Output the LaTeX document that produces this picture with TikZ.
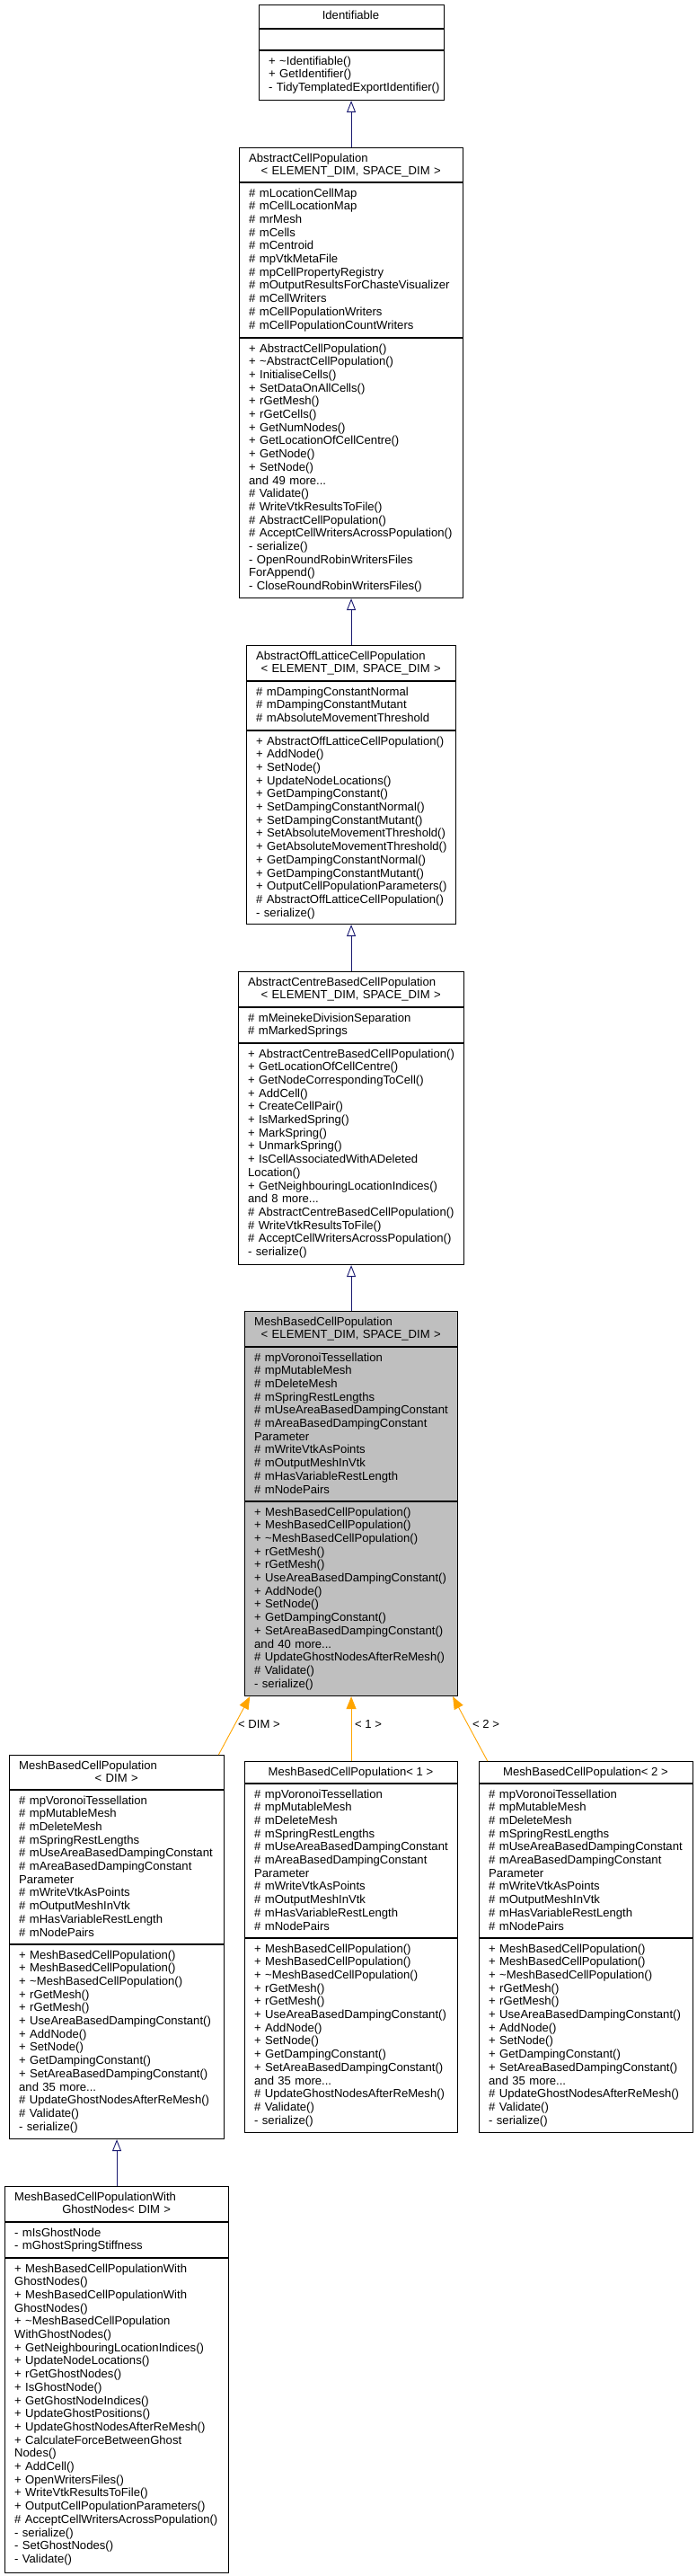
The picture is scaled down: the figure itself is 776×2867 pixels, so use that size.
\documentclass[tikz,border=0pt]{standalone}
\usepackage{fontspec}
\setmainfont{Liberation Sans}
\usepackage{tikz}
\usetikzlibrary{arrows.meta}
\usepackage{xcolor}

\definecolor{inhblue}{HTML}{191970}
\definecolor{tmplorange}{HTML}{FFA500}
\definecolor{boxgray}{HTML}{BFBFBF}
\newcommand{\umlfont}{\fontsize{13.1}{14.7}\selectfont}

% members shared by the MeshBasedCellPopulation boxes
\newcommand{\mbattrs}{\# mpVoronoiTessellation\\ \# mpMutableMesh\\ \# mDeleteMesh\\
  \# mSpringRestLengths\\ \# mUseAreaBasedDampingConstant\\ \# mAreaBasedDampingConstant\\
  Parameter\\ \# mWriteVtkAsPoints\\ \# mOutputMeshInVtk\\ \# mHasVariableRestLength\\
  \# mNodePairs}
\newcommand{\mbmethods}[1]{+ MeshBasedCellPopulation()\\ + MeshBasedCellPopulation()\\
  + \textasciitilde MeshBasedCellPopulation()\\ + rGetMesh()\\ + rGetMesh()\\
  + UseAreaBasedDampingConstant()\\ + AddNode()\\ + SetNode()\\ + GetDampingConstant()\\
  + SetAreaBasedDampingConstant()\\ and #1 more...\\ \# UpdateGhostNodesAfterReMesh()\\
  \# Validate()\\ - serialize()}

\begin{document}
\begin{tikzpicture}[
  x=1pt, y=-1pt,
  cls/.style={draw, line width=1.1pt, fill=white, anchor=north west, inner sep=0pt},
  sep/.style={line width=1.1pt},
  txt/.style={anchor=base west, align=left, text width=260pt, inner sep=0pt, font=\umlfont},
  ttl/.style={txt, text width=#1},
  ctitle/.style={anchor=base, align=center, inner sep=0pt, font=\umlfont},
  lbl/.style={anchor=west, inner sep=0pt, font=\umlfont},
  inh/.style={draw=inhblue, line width=0.9pt, -{Triangle[open, length=13pt, width=10pt]}},
  tmpl/.style={draw=tmplorange, line width=0.9pt, -{Triangle[length=14pt, width=11pt]}}
]
  \path[use as bounding box, fill=white] (0,0) rectangle (776,2867);

  % Identifiable
  \node[cls, minimum width=206pt, minimum height=106pt] (ident) at (287.5,5) {};
  \draw[sep] (ident.west |- 0,32) -- (ident.east |- 0,32);
  \draw[sep] (ident.west |- 0,56) -- (ident.east |- 0,56);
  \node[ctitle] (identT) at (390.5,21) {Identifiable};
  \node[txt] (identM) at (299,72) {+ \textasciitilde Identifiable()\\ + GetIdentifier()\\
    - TidyTemplatedExportIdentifier()};

  % AbstractCellPopulation
  \node[cls, minimum width=249pt, minimum height=501pt] (acp) at (266,164) {};
  \draw[sep] (acp.west |- 0,203) -- (acp.east |- 0,203);
  \draw[sep] (acp.west |- 0,376) -- (acp.east |- 0,376);
  \node[ttl=227pt] (acpT) at (277,180) {AbstractCellPopulation\\
    \makebox[227pt]{< ELEMENT\_DIM, SPACE\_DIM >}};
  \node[txt] (acpA) at (277,219) {\# mLocationCellMap\\ \# mCellLocationMap\\ \# mrMesh\\
    \# mCells\\ \# mCentroid\\ \# mpVtkMetaFile\\ \# mpCellPropertyRegistry\\
    \# mOutputResultsForChasteVisualizer\\ \# mCellWriters\\ \# mCellPopulationWriters\\
    \# mCellPopulationCountWriters};
  \node[txt] (acpM) at (277,392) {+ AbstractCellPopulation()\\
    + \textasciitilde AbstractCellPopulation()\\ + InitialiseCells()\\ + SetDataOnAllCells()\\
    + rGetMesh()\\ + rGetCells()\\ + GetNumNodes()\\ + GetLocationOfCellCentre()\\
    + GetNode()\\ + SetNode()\\ and 49 more...\\ \# Validate()\\ \# WriteVtkResultsToFile()\\
    \# AbstractCellPopulation()\\ \# AcceptCellWritersAcrossPopulation()\\ - serialize()\\
    - OpenRoundRobinWritersFiles\\ ForAppend()\\ - CloseRoundRobinWritersFiles()};

  % AbstractOffLatticeCellPopulation
  \node[cls, minimum width=233pt, minimum height=310pt] (offl) at (274,718) {};
  \draw[sep] (offl.west |- 0,758) -- (offl.east |- 0,758);
  \draw[sep] (offl.west |- 0,813) -- (offl.east |- 0,813);
  \node[ttl=211pt] (offlT) at (285,734) {AbstractOffLatticeCellPopulation\\
    \makebox[211pt]{< ELEMENT\_DIM, SPACE\_DIM >}};
  \node[txt] (offlA) at (285,774) {\# mDampingConstantNormal\\ \# mDampingConstantMutant\\
    \# mAbsoluteMovementThreshold};
  \node[txt] (offlM) at (285,829) {+ AbstractOffLatticeCellPopulation()\\ + AddNode()\\
    + SetNode()\\ + UpdateNodeLocations()\\ + GetDampingConstant()\\
    + SetDampingConstantNormal()\\ + SetDampingConstantMutant()\\
    + SetAbsoluteMovementThreshold()\\ + GetAbsoluteMovementThreshold()\\
    + GetDampingConstantNormal()\\ + GetDampingConstantMutant()\\
    + OutputCellPopulationParameters()\\ \# AbstractOffLatticeCellPopulation()\\ - serialize()};

  % AbstractCentreBasedCellPopulation
  \node[cls, minimum width=251pt, minimum height=326pt] (cbp) at (265,1081) {};
  \draw[sep] (cbp.west |- 0,1121) -- (cbp.east |- 0,1121);
  \draw[sep] (cbp.west |- 0,1161) -- (cbp.east |- 0,1161);
  \node[ttl=229pt] (cbpT) at (276,1097) {AbstractCentreBasedCellPopulation\\
    \makebox[229pt]{< ELEMENT\_DIM, SPACE\_DIM >}};
  \node[txt] (cbpA) at (276,1137) {\# mMeinekeDivisionSeparation\\ \# mMarkedSprings};
  \node[txt] (cbpM) at (276,1177) {+ AbstractCentreBasedCellPopulation()\\
    + GetLocationOfCellCentre()\\ + GetNodeCorrespondingToCell()\\ + AddCell()\\
    + CreateCellPair()\\ + IsMarkedSpring()\\ + MarkSpring()\\ + UnmarkSpring()\\
    + IsCellAssociatedWithADeleted\\ Location()\\ + GetNeighbouringLocationIndices()\\
    and 8 more...\\ \# AbstractCentreBasedCellPopulation()\\ \# WriteVtkResultsToFile()\\
    \# AcceptCellWritersAcrossPopulation()\\ - serialize()};

  % MeshBasedCellPopulation (this class)
  \node[cls, fill=boxgray, minimum width=237pt, minimum height=428pt] (mb) at (272,1459) {};
  \draw[sep] (mb.west |- 0,1499) -- (mb.east |- 0,1499);
  \draw[sep] (mb.west |- 0,1671) -- (mb.east |- 0,1671);
  \node[ttl=215pt] (mbT) at (283,1475) {MeshBasedCellPopulation\\
    \makebox[215pt]{< ELEMENT\_DIM, SPACE\_DIM >}};
  \node[txt] (mbA) at (283,1515) {\mbattrs};
  \node[txt] (mbM) at (283,1687) {\mbmethods{40}};

  % template instances
  \node[cls, minimum width=239pt, minimum height=427pt] (mbDim) at (10,1953) {};
  \draw[sep] (mbDim.west |- 0,1992) -- (mbDim.east |- 0,1992);
  \draw[sep] (mbDim.west |- 0,2164) -- (mbDim.east |- 0,2164);
  \node[ttl=217pt] (mbDimT) at (21,1969) {MeshBasedCellPopulation\\
    \makebox[217pt]{< DIM >}};
  \node[txt] (mbDimA) at (21,2008) {\mbattrs};
  \node[txt] (mbDimM) at (21,2180) {\mbmethods{35}};

  \node[cls, minimum width=237pt, minimum height=413pt] (mbOne) at (272,1960) {};
  \draw[sep] (mbOne.west |- 0,1985) -- (mbOne.east |- 0,1985);
  \draw[sep] (mbOne.west |- 0,2157) -- (mbOne.east |- 0,2157);
  \node[ctitle] (mbOneT) at (390.5,1976) {MeshBasedCellPopulation< 1 >};
  \node[txt] (mbOneA) at (283,2001) {\mbattrs};
  \node[txt] (mbOneM) at (283,2173) {\mbmethods{35}};

  \node[cls, minimum width=238pt, minimum height=413pt] (mbTwo) at (533,1960) {};
  \draw[sep] (mbTwo.west |- 0,1985) -- (mbTwo.east |- 0,1985);
  \draw[sep] (mbTwo.west |- 0,2157) -- (mbTwo.east |- 0,2157);
  \node[ctitle] (mbTwoT) at (652,1976) {MeshBasedCellPopulation< 2 >};
  \node[txt] (mbTwoA) at (544,2001) {\mbattrs};
  \node[txt] (mbTwoM) at (544,2173) {\mbmethods{35}};

  % MeshBasedCellPopulationWithGhostNodes
  \node[cls, minimum width=249pt, minimum height=430pt] (mbGhost) at (5,2433) {};
  \draw[sep] (mbGhost.west |- 0,2473) -- (mbGhost.east |- 0,2473);
  \draw[sep] (mbGhost.west |- 0,2513) -- (mbGhost.east |- 0,2513);
  \node[ttl=227pt] (mbGhostT) at (16,2449) {MeshBasedCellPopulationWith\\
    \makebox[227pt]{GhostNodes< DIM >}};
  \node[txt] (mbGhostA) at (16,2489) {- mIsGhostNode\\ - mGhostSpringStiffness};
  \node[txt] (mbGhostM) at (16,2529) {+ MeshBasedCellPopulationWith\\ GhostNodes()\\
    + MeshBasedCellPopulationWith\\ GhostNodes()\\ + \textasciitilde MeshBasedCellPopulation\\
    WithGhostNodes()\\ + GetNeighbouringLocationIndices()\\ + UpdateNodeLocations()\\
    + rGetGhostNodes()\\ + IsGhostNode()\\ + GetGhostNodeIndices()\\
    + UpdateGhostPositions()\\ + UpdateGhostNodesAfterReMesh()\\
    + CalculateForceBetweenGhost\\ Nodes()\\ + AddCell()\\ + OpenWritersFiles()\\
    + WriteVtkResultsToFile()\\ + OutputCellPopulationParameters()\\
    \# AcceptCellWritersAcrossPopulation()\\ - serialize()\\ - SetGhostNodes()\\ - Validate()};

  % inheritance
  \draw[inh] (acp) -- (ident);
  \draw[inh] (offl) -- (acp);
  \draw[inh] (cbp) -- (offl);
  \draw[inh] (mb) -- (cbp);
  \draw[inh] (mbGhost) -- (mbDim);

  % template instantiation
  \draw[tmpl] (mbDim) -- (mb);
  \draw[tmpl] (mbOne) -- (mb);
  \draw[tmpl] (mbTwo) -- (mb);
  \node[lbl] (lblDim) at (265,1919) {< DIM >};
  \node[lbl] (lblOne) at (395,1919) {< 1 >};
  \node[lbl] (lblTwo) at (526,1919) {< 2 >};
\end{tikzpicture}
\end{document}
